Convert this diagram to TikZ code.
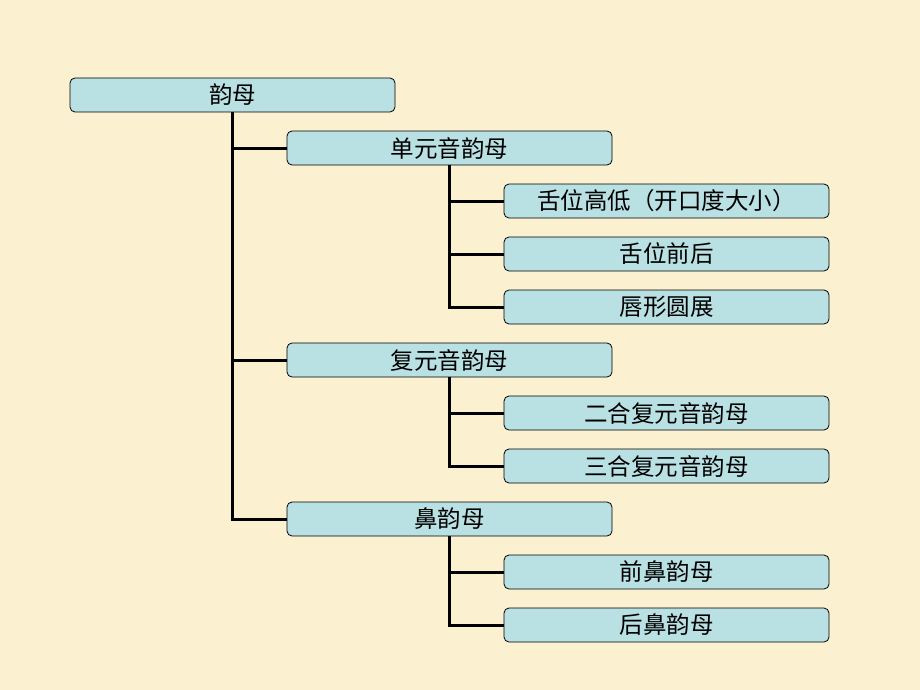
\documentclass[tikz,border=0pt]{standalone}
\usepackage{fontspec}
\setmainfont{Noto Sans CJK SC}
\definecolor{bg}{HTML}{FBF1D0}
\definecolor{boxfill}{HTML}{B9E0E3}
\begin{document}
\begin{tikzpicture}[x=1pt,y=-1pt,
  box/.style={draw=black,line width=0.8pt,fill=boxfill,rounded corners=5pt,minimum width=325pt,minimum height=34pt,inner sep=0pt,font=\fontsize{23.5pt}{26pt}\selectfont},
  link/.style={draw=black,line width=3pt}]
\fill[bg] (0,0) rectangle (920,690);
\useasboundingbox (0,0) rectangle (920,690);
\node[box] (r) at (232.5,95) {韵母};
\node[box] (a) at (449.5,148) {单元音韵母};
\node[box] (a1) at (666.5,201) {舌位高低（开口度大小）};
\node[box] (a2) at (666.5,254) {舌位前后};
\node[box] (a3) at (666.5,307) {唇形圆展};
\node[box] (b) at (449.5,360) {复元音韵母};
\node[box] (b1) at (666.5,413) {二合复元音韵母};
\node[box] (b2) at (666.5,466) {三合复元音韵母};
\node[box] (c) at (449.5,519) {鼻韵母};
\node[box] (c1) at (666.5,572) {前鼻韵母};
\node[box] (c2) at (666.5,625) {后鼻韵母};
\draw[link] (r.south) |- (a.west);
\draw[link] (r.south) |- (b.west);
\draw[link] (r.south) |- (c.west);
\draw[link] (a.south) |- (a1.west);
\draw[link] (a.south) |- (a2.west);
\draw[link] (a.south) |- (a3.west);
\draw[link] (b.south) |- (b1.west);
\draw[link] (b.south) |- (b2.west);
\draw[link] (c.south) |- (c1.west);
\draw[link] (c.south) |- (c2.west);
\end{tikzpicture}
\end{document}
